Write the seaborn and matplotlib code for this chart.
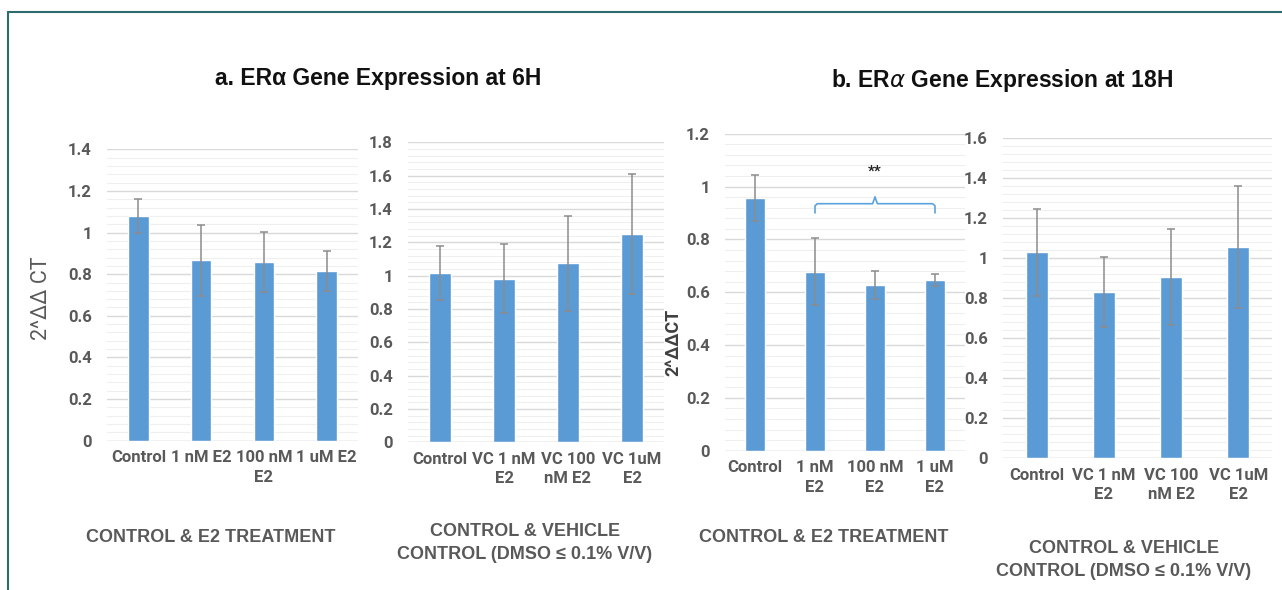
import matplotlib
matplotlib.use("Agg")
import matplotlib.pyplot as plt
import seaborn as sns
import numpy as np
import pandas as pd
from matplotlib.ticker import MultipleLocator, AutoMinorLocator
from matplotlib.lines import Line2D

# ---------------- data ----------------
cats_a1 = ["Control", "1 nM E2", "100 nM\nE2", "1 uM E2"]
vals_a1 = [1.08, 0.867, 0.857, 0.814]
errs_a1 = [0.083, 0.170, 0.144, 0.096]

cats_a2 = ["Control", "VC 1 nM\nE2", "VC 100\nnM E2", "VC 1uM\nE2"]
vals_a2 = [1.016, 0.982, 1.074, 1.248]
errs_a2 = [0.162, 0.206, 0.284, 0.360]

cats_b1 = ["Control", "1 nM\nE2", "100 nM\nE2", "1 uM\nE2"]
vals_b1 = [0.956, 0.678, 0.627, 0.646]
errs_b1 = [0.087, 0.128, 0.054, 0.024]

cats_b2 = ["Control", "VC 1 nM\nE2", "VC 100\nnM E2", "VC 1uM\nE2"]
vals_b2 = [1.028, 0.830, 0.906, 1.056]
errs_b2 = [0.218, 0.175, 0.240, 0.305]

ymax_list = [1.4, 1.8, 1.2, 1.6]

title_a = "a. ER\u03b1 Gene Expression at 6H"
title_b = "b. ER$\\alpha$ Gene Expression at 18H"
group_e2 = "CONTROL & E2 TREATMENT"
group_vc = "CONTROL & VEHICLE\nCONTROL (DMSO \u2264 0.1% V/V)"
ylabel_a = "2^\u0394\u0394 CT"
ylabel_b = "2^\u0394\u0394CT"

# significance bracket (panel b, left)
sig_from, sig_to, sig_level, sig_text = 1, 3, 0.935, "**"

# ---------------- style ----------------
sns.set_theme(style="white")
plt.rcParams["font.family"] = ["Roboto", "DejaVu Sans"]

BAR = "#5b9bd5"
GREY = "#595959"
ERR = "#8c8c8c"
TICKFONT = ["Roboto", "DejaVu Sans"]

fig = plt.figure(figsize=(12.82, 5.90), dpi=100)
W, H = 1282, 590

def rect(l, t, r, b):
    return [l / W, 1 - b / H, (r - l) / W, (b - t) / H]

positions = [rect(107, 149.3, 358, 440.7),
             rect(408, 142.3, 664, 442.3),
             rect(725, 133.7, 965, 450.7),
             rect(1003, 137.7, 1272, 458.3)]

panels = [(cats_a1, vals_a1, errs_a1), (cats_a2, vals_a2, errs_a2),
          (cats_b1, vals_b1, errs_b1), (cats_b2, vals_b2, errs_b2)]

axes = []
for i, ((cats, vals, errs), pos, ymax) in enumerate(zip(panels, positions, ymax_list)):
    ax = fig.add_axes(pos)
    df = pd.DataFrame({"cat": cats, "val": vals})
    sns.barplot(data=df, x="cat", y="val", ax=ax, color=BAR, saturation=1,
                width=0.33, errorbar=None, zorder=3)
    ax.errorbar(np.arange(len(cats)), vals, yerr=errs, fmt="none",
                ecolor=ERR, elinewidth=1.1, capsize=3, capthick=1.1, zorder=4)
    ax.set_ylim(0, ymax)
    ax.set_xlim(-0.5, len(cats) - 0.5)
    ax.yaxis.set_major_locator(MultipleLocator(0.2))
    ax.yaxis.set_minor_locator(AutoMinorLocator(5))
    ax.grid(axis="y", which="major", color="#d9d9d9", lw=1.0, zorder=0)
    ax.grid(axis="y", which="minor", color="#efefef", lw=0.8, zorder=0)
    ax.set_axisbelow(True)
    for s in ax.spines.values():
        s.set_visible(False)
    ax.axhline(0, color="#d9d9d9", lw=1.0, zorder=1)
    ax.tick_params(axis="y", which="both", length=0, pad=11)
    ax.tick_params(axis="x", length=0, pad=7)
    ax.set_xlabel("")
    ax.set_ylabel("")
    ax.set_yticks(ax.get_yticks())
    ax.set_yticklabels(["%g" % round(v, 2) for v in ax.get_yticks()],
                       fontsize=12, fontweight="bold", color=GREY, family=TICKFONT)
    ax.set_ylim(0, ymax)
    ax.set_xticks(np.arange(len(cats)))
    ax.set_xticklabels(cats, fontsize=12, fontweight="bold", color=GREY,
                       family=TICKFONT, linespacing=1.35, va="top")
    axes.append(ax)

# y labels
axes[0].set_ylabel(ylabel_a, fontsize=15.5, color=GREY, family=TICKFONT)
axes[0].yaxis.set_label_coords(-55 / 251, (440.7 - 298) / 291.4)
axes[2].set_ylabel(ylabel_b, fontsize=13, color="#404040", fontweight="bold",
                   family=TICKFONT)
axes[2].yaxis.set_label_coords(-43 / 240, (450.7 - 342) / 317)

# significance bracket
axb = axes[2]
c = "#5ba3dc"
xm = (sig_from + sig_to) / 2
drop, bump = 0.035, 0.025
axb.plot([sig_from, sig_from, sig_from + 0.04, xm - 0.04, xm],
         [sig_level - drop, sig_level - 0.008, sig_level, sig_level, sig_level + bump],
         color=c, lw=1.2, zorder=5, solid_capstyle="round")
axb.plot([sig_to, sig_to, sig_to - 0.04, xm + 0.04, xm],
         [sig_level - drop, sig_level - 0.008, sig_level, sig_level, sig_level + bump],
         color=c, lw=1.2, zorder=5, solid_capstyle="round")
axb.text(xm, sig_level + 0.12, sig_text, ha="center", va="center",
         fontsize=11, color="#222222", fontweight="bold")

# titles
tfont = ["Liberation Sans", "DejaVu Sans"]
fig.text(378 / W, 1 - 78 / H, title_a, ha="center", va="center",
         fontsize=16.5, fontweight="bold", family=tfont, color="#111111")
fig.text(1002 / W, 1 - 80 / H, title_b, ha="center", va="center",
         fontsize=16.5, fontweight="bold", family=tfont, color="#111111")

# group labels
gkw = dict(ha="center", va="center", fontsize=13, fontweight="bold",
           family=tfont, color=GREY, linespacing=1.45)
fig.text(211 / W, 1 - 537 / H, group_e2, **gkw)
fig.text(525 / W, 1 - 543 / H, group_vc, **gkw)
fig.text(824 / W, 1 - 537 / H, group_e2, **gkw)
fig.text(1124 / W, 1 - 560 / H, group_vc, **gkw)

# frame lines
teal = "#2e6b6e"
fig.add_artist(Line2D([8 / W, 1.0], [1 - 12 / H, 1 - 12 / H], color=teal, lw=1.5,
                      transform=fig.transFigure))
fig.add_artist(Line2D([8 / W, 8 / W], [0, 1 - 12 / H], color=teal, lw=1.5,
                      transform=fig.transFigure))

fig.savefig("out.png", dpi=100)
